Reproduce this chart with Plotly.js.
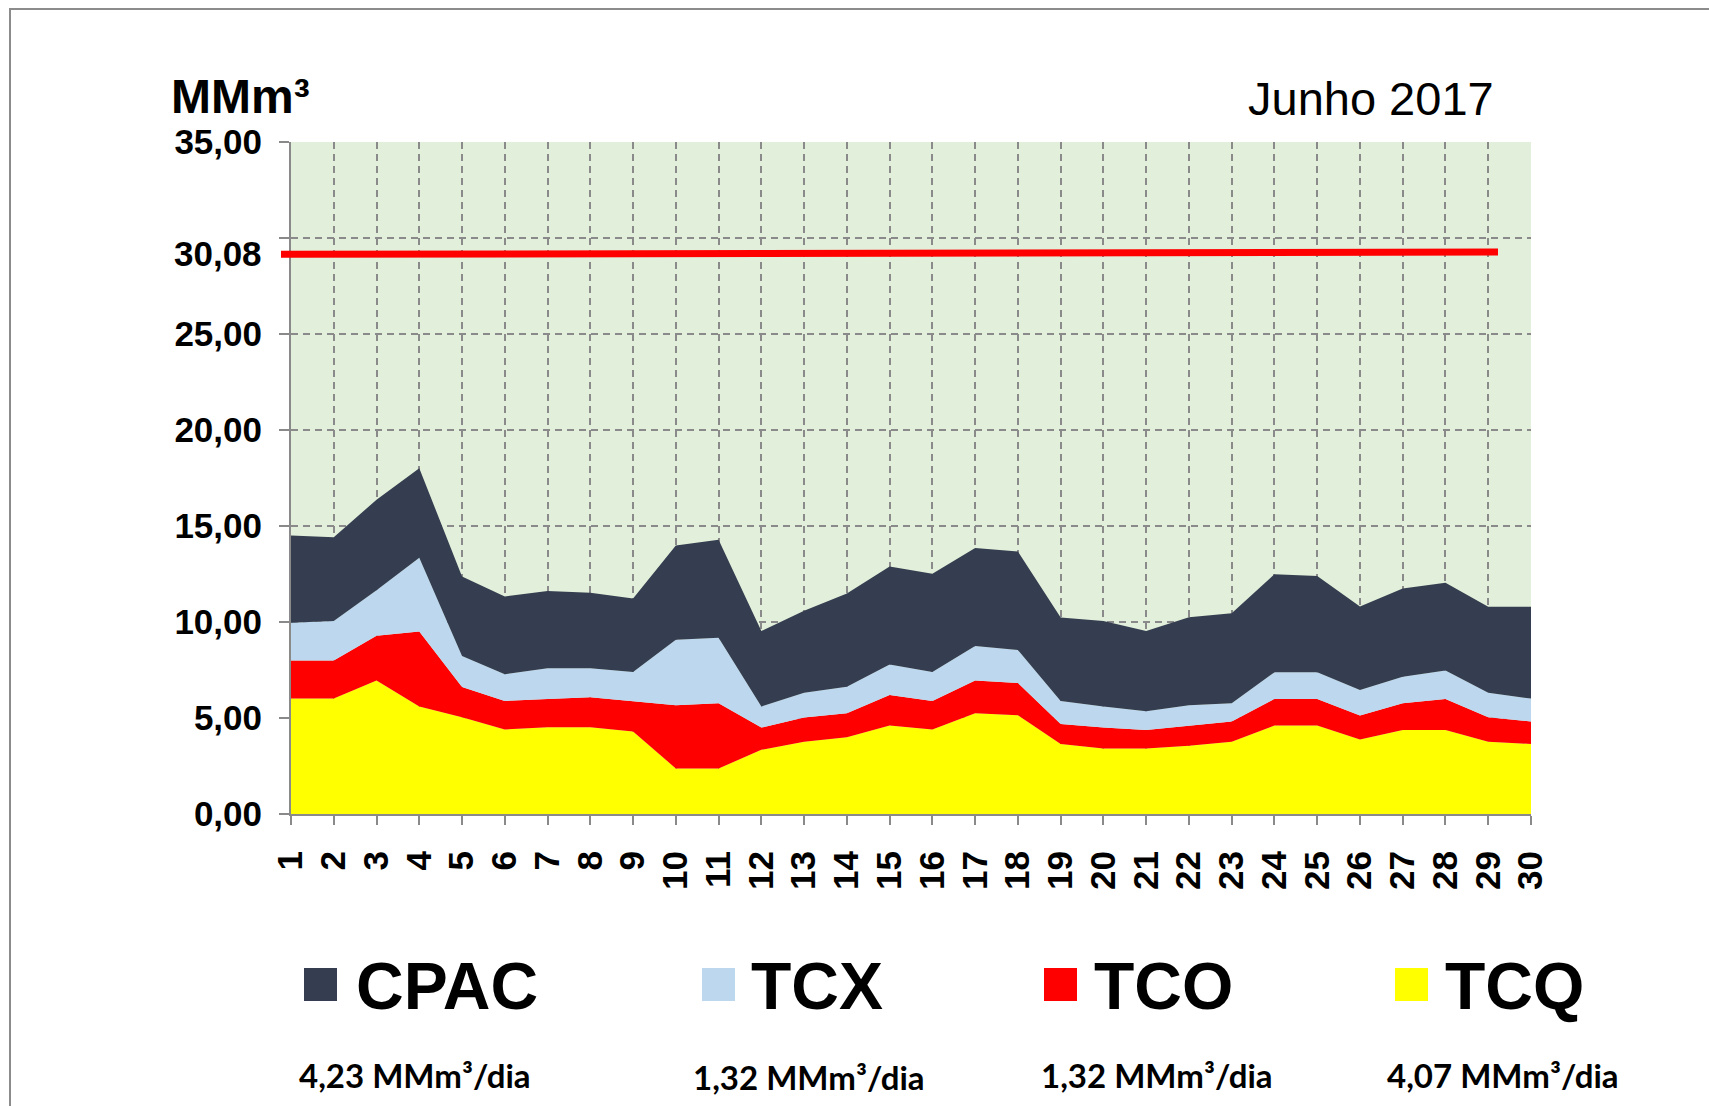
<!DOCTYPE html>
<html>
<head>
<meta charset="utf-8">
<script src="https://cdn.plot.ly/plotly-3.0.1.min.js"></script>
<style>
  html, body { margin: 0; padding: 0; background: #ffffff; overflow: hidden; }
  #chart { width: 1709px; height: 1106px; }
</style>
</head>
<body>
<div id="chart"></div>
<script>
// ---------- DATA ----------
const days = Array.from({length: 30}, (_, i) => i + 1);
const dayLabels = days.map(String);

const seriesNames = ["CPAC", "TCX", "TCO", "TCQ"];
const seriesColors = ["#343e50", "#bdd7ee", "#ff0000", "#ffff00"];
const seriesDailyLabels = ["4,23 MMm³/dia", "1,32 MMm³/dia", "1,32 MMm³/dia", "4,07 MMm³/dia"];

const tcq  = [6.01,6.01,6.95,5.60,5.04,4.40,4.52,4.52,4.30,2.37,2.37,3.34,3.76,4.00,4.61,4.40,5.25,5.14,3.65,3.41,3.41,3.55,3.76,4.61,4.61,3.88,4.38,4.38,3.76,3.65];
const tco  = [1.99,1.99,2.33,3.91,1.58,1.49,1.47,1.56,1.57,3.29,3.40,1.16,1.26,1.25,1.59,1.49,1.70,1.68,1.04,1.09,0.97,1.06,1.06,1.38,1.38,1.25,1.39,1.61,1.28,1.17];
const tcx  = [1.96,2.05,2.38,3.83,1.61,1.39,1.60,1.51,1.53,3.42,3.41,1.10,1.29,1.38,1.59,1.51,1.80,1.72,1.20,1.10,0.97,1.05,0.95,1.39,1.39,1.33,1.38,1.49,1.27,1.19];
const cpac = [4.54,4.36,4.71,4.67,4.14,4.05,4.03,3.93,3.82,4.90,5.11,3.93,4.27,4.85,5.10,5.11,5.11,5.13,4.35,4.45,4.18,4.59,4.69,5.11,5.02,4.35,4.59,4.56,4.48,4.78];

const yTickVals = [0, 5, 10, 15, 20, 25, 30, 35];
const yTickText = ["0,00", "5,00", "10,00", "15,00", "20,00", "25,00", "", "35,00"];

const refLineLabel = "30,08";
const refLineLevel = [29.15, 29.27];   // drawn height of the red line (left, right)

const unitLabel = "MMm³";
const periodLabel = "Junho 2017";

// ---------- LAYOUT HELPERS ----------
const W = 1709, H = 1106;
const M = {l: 291, r: 178, t: 142, b: 292};
const PW = W - M.l - M.r, PH = H - M.t - M.b;
const PX = x => (x - M.l) / PW;
const PY = y => (H - M.b - y) / PH;

const FONT = "Liberation Sans, Arial, sans-serif";
const GRID = "#8a8a8a";

// ---------- TRACES (stacked areas, bottom first) ----------
const stackOrder = [
  {name: "TCQ",  y: tcq,  color: seriesColors[3]},
  {name: "TCO",  y: tco,  color: seriesColors[2]},
  {name: "TCX",  y: tcx,  color: seriesColors[1]},
  {name: "CPAC", y: cpac, color: seriesColors[0]}
];
const traces = stackOrder.map(s => ({
  type: "scatter",
  x: days,
  y: s.y,
  name: s.name,
  stackgroup: "one",
  mode: "lines",
  line: {width: 0, color: s.color},
  fillcolor: s.color,
  hoverinfo: "skip",
  showlegend: false
}));

// ---------- SHAPES & ANNOTATIONS ----------
const shapes = [];
const annotations = [];

// red reference line
shapes.push({
  type: "line", xref: "paper", yref: "y",
  x0: PX(281), x1: PX(1498), y0: refLineLevel[0], y1: refLineLevel[1],
  line: {color: "#ff0000", width: 7}, layer: "above"
});
annotations.push({
  xref: "paper", yref: "y", x: PX(264), y: (refLineLevel[0] + refLineLevel[1]) / 2,
  xanchor: "right", yanchor: "middle", showarrow: false,
  text: "<b>" + refLineLabel + "</b>",
  font: {family: FONT, size: 35, color: "#000000"}
});

// unit and period
annotations.push({
  xref: "paper", yref: "paper", x: PX(169), y: PY(97),
  xanchor: "left", yanchor: "middle", showarrow: false,
  text: "<b>" + unitLabel + "</b>",
  font: {family: FONT, size: 48, color: "#000000"}
});
annotations.push({
  xref: "paper", yref: "paper", x: PX(1496), y: PY(99),
  xanchor: "right", yanchor: "middle", showarrow: false,
  text: periodLabel,
  font: {family: FONT, size: 47, color: "#000000"}
});

// custom legend
const legSquareX = [304, 702, 1044, 1395];
const legTextX = [354, 749, 1092, 1443];
const legSubX = [415, 809, 1157, 1503];
const legSubY = [1075, 1077, 1075, 1075];
seriesNames.forEach((nm, i) => {
  shapes.push({
    type: "rect", xref: "paper", yref: "paper",
    x0: PX(legSquareX[i]), x1: PX(legSquareX[i] + 33),
    y0: PY(968), y1: PY(1001),
    fillcolor: seriesColors[i], line: {width: 0}
  });
  annotations.push({
    xref: "paper", yref: "paper", x: PX(legTextX[i]), y: PY(986),
    xanchor: "left", yanchor: "middle", showarrow: false,
    text: "<b>" + nm + "</b>",
    font: {family: FONT, size: 66, color: "#000000"}
  });
  annotations.push({
    xref: "paper", yref: "paper", x: PX(legSubX[i]), y: PY(legSubY[i]),
    xanchor: "center", yanchor: "middle", showarrow: false,
    text: "<b>" + seriesDailyLabels[i] + "</b>",
    font: {family: "Lato, Open Sans, sans-serif", size: 33, color: "#000000"}
  });
});

// outer frame (left and top edges)
shapes.push({
  type: "line", xref: "paper", yref: "paper",
  x0: PX(10), x1: PX(10), y0: PY(9), y1: PY(1110),
  line: {color: "#8c8c8c", width: 2}
});
shapes.push({
  type: "line", xref: "paper", yref: "paper",
  x0: PX(9), x1: PX(1712), y0: PY(9), y1: PY(9),
  line: {color: "#8c8c8c", width: 2}
});

const layout = {
  width: W, height: H,
  margin: M,
  paper_bgcolor: "#ffffff",
  plot_bgcolor: "#e2efda",
  showlegend: false,
  font: {family: FONT, color: "#000000"},
  xaxis: {
    range: [1, 30],
    tickmode: "array", tickvals: days, ticktext: dayLabels,
    tickangle: -90,
    ticks: "outside", ticklen: 9, tickwidth: 2, tickcolor: GRID,
    ticklabelstandoff: 12,
    showline: true, linecolor: GRID, linewidth: 2,
    showgrid: true, gridcolor: GRID, gridwidth: 2, griddash: "7px,5px",
    zeroline: false,
    tickfont: {family: FONT, size: 35, color: "#000000", weight: "bold"},
    fixedrange: true
  },
  yaxis: {
    range: [0, 35],
    tickmode: "array", tickvals: yTickVals, ticktext: yTickText,
    ticks: "outside", ticklen: 10, tickwidth: 2, tickcolor: GRID,
    ticklabelstandoff: 10,
    showline: true, linecolor: GRID, linewidth: 2,
    showgrid: true, gridcolor: GRID, gridwidth: 2, griddash: "7px,5px",
    zeroline: false,
    tickfont: {family: FONT, size: 35, color: "#000000", weight: "bold"},
    fixedrange: true
  },
  shapes: shapes,
  annotations: annotations
};

Plotly.newPlot("chart", traces, layout, {displayModeBar: false, staticPlot: true});
</script>
</body>
</html>
